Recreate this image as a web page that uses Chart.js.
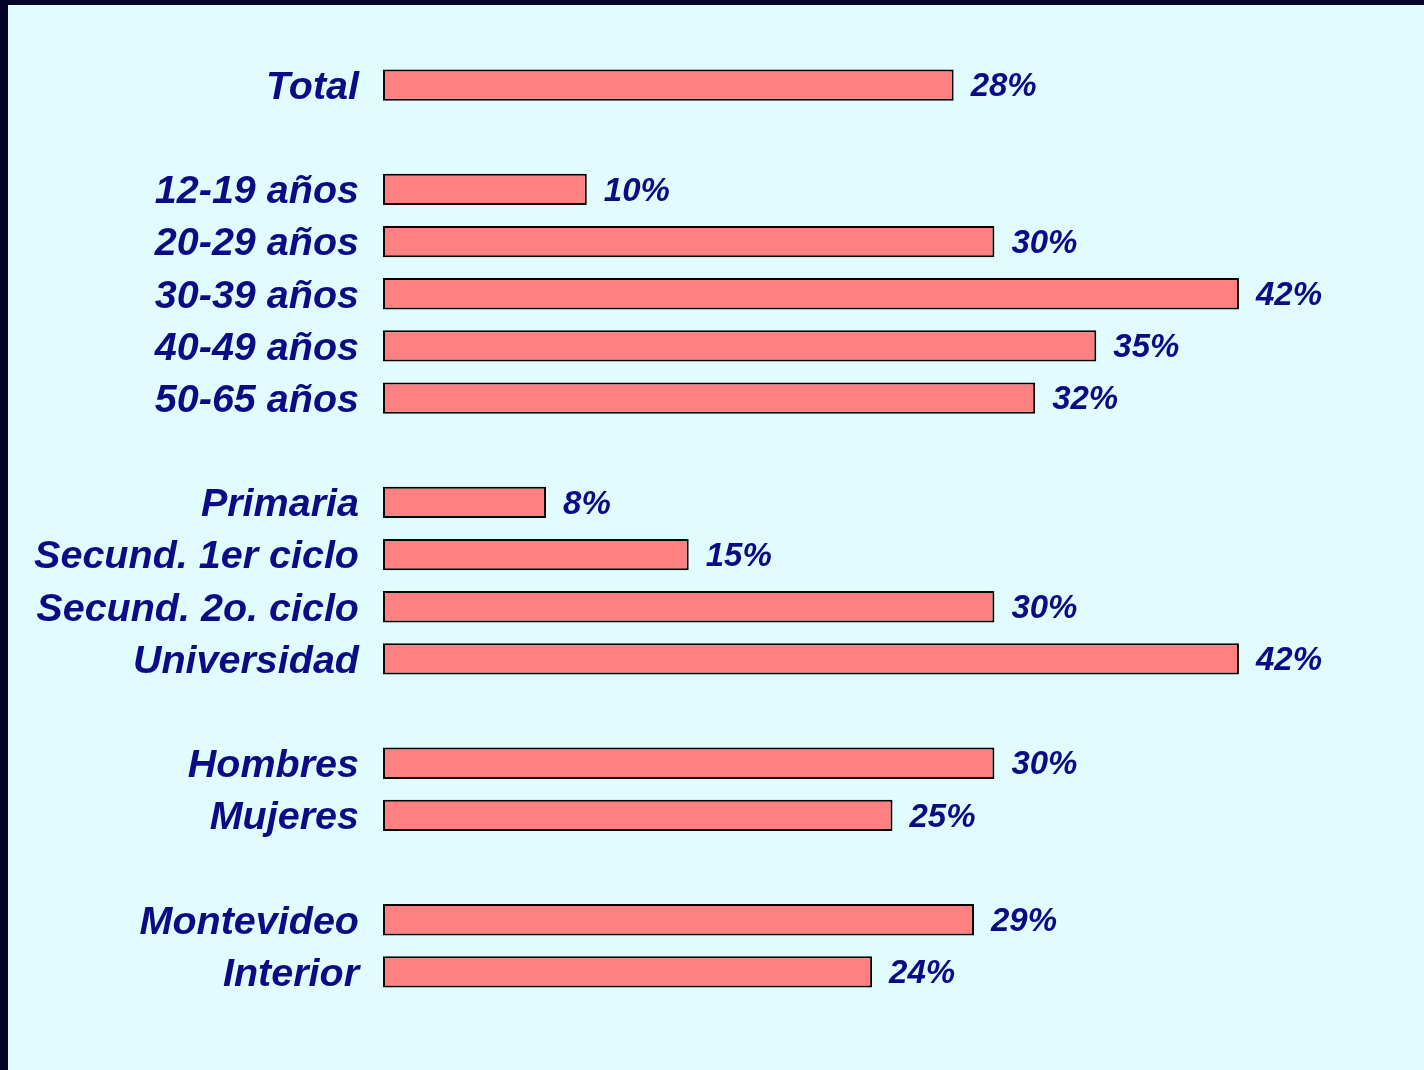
<!DOCTYPE html>
<html>
<head>
<meta charset="utf-8">
<script src="https://cdn.jsdelivr.net/npm/chart.js@4.4.1/dist/chart.umd.min.js"></script>
<style>
  html, body { margin: 0; padding: 0; }
  body { background: #03032a; width: 1424px; height: 1070px; overflow: hidden; }
  .panel { position: absolute; left: 8px; top: 5px; width: 1416px; height: 1065px; background: #e1fcff; }
  canvas { display: block; }
</style>
</head>
<body>
<div class="panel"><canvas id="barChart" width="1416" height="1065"></canvas></div>
<script>
// ===== データ =====
// 空文字のカテゴリはグループ間の余白
const CATEGORIES = [
  'Total', '',
  '12-19 años', '20-29 años', '30-39 años', '40-49 años', '50-65 años', '',
  'Primaria', 'Secund. 1er ciclo', 'Secund. 2o. ciclo', 'Universidad', '',
  'Hombres', 'Mujeres', '',
  'Montevideo', 'Interior'
];
const VALUES = [
  28, null,
  10, 30, 42, 35, 32, null,
  8, 15, 30, 42, null,
  30, 25, null,
  29, 24
];

const TEXT_COLOR = '#0b0b86';
const FONT = '"Liberation Sans", Arial, sans-serif';

// ===== 値ラベル =====
const valueLabels = {
  id: 'valueLabels',
  afterDatasetsDraw(chart) {
    const { ctx } = chart;
    const meta = chart.getDatasetMeta(0);
    ctx.save();
    ctx.font = `italic bold 33px ${FONT}`;
    ctx.fillStyle = TEXT_COLOR;
    ctx.textAlign = 'left';
    ctx.textBaseline = 'middle';
    meta.data.forEach((bar, i) => {
      const v = VALUES[i];
      if (v == null) return;
      ctx.fillText(`${v}%`, bar.x + 17, bar.y + 2);
    });
    ctx.restore();
  }
};

// ===== 棒グラフ =====
function initBar() {
  const ctx = document.getElementById('barChart');
  new Chart(ctx, {
    type: 'bar',
    data: {
      labels: CATEGORIES,
      datasets: [{
        data: VALUES,
        backgroundColor: '#ff8080',
        borderColor: '#000000',
        borderWidth: 2,
        borderSkipped: false,
        barPercentage: 0.6,
        categoryPercentage: 1
      }]
    },
    options: {
      indexAxis: 'y',
      responsive: false,
      animation: false,
      layout: { padding: { top: 54, bottom: 72, left: 0, right: 22 } },
      plugins: { legend: { display: false }, tooltip: { enabled: false } },
      scales: {
        x: { display: false, min: 0, max: 50 },
        y: {
          grid: { display: false, drawTicks: false },
          border: { display: false },
          afterFit: scale => { scale.width = 375; },
          ticks: {
            padding: 24,
            labelOffset: 3,
            color: TEXT_COLOR,
            font: { family: FONT, size: 39.5, style: 'italic', weight: 'bold' }
          }
        }
      }
    },
    plugins: [valueLabels]
  });
}

document.addEventListener('DOMContentLoaded', initBar);
</script>
</body>
</html>
